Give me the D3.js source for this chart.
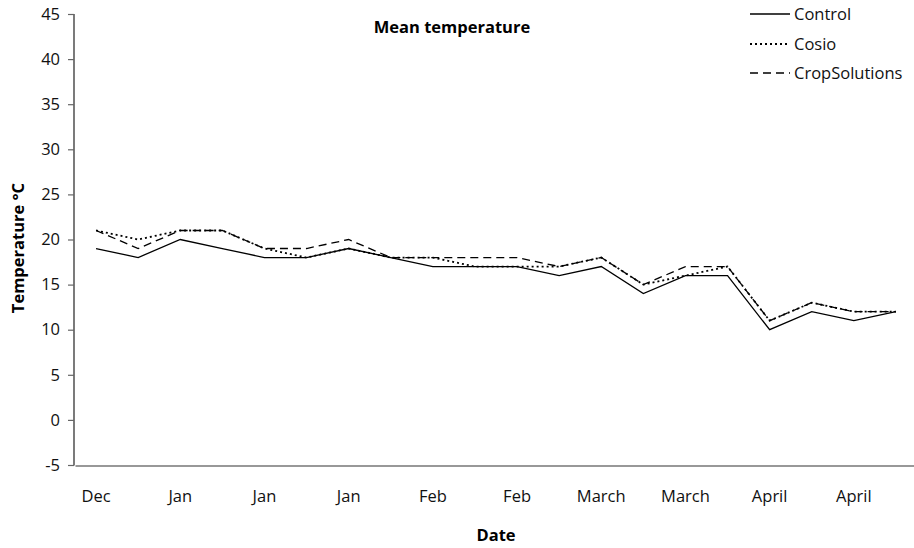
<!DOCTYPE html>
<html><head><meta charset="utf-8">
<script src="https://cdn.jsdelivr.net/npm/d3@7"></script>
<style>body{margin:0;background:#fff}svg{display:block;font-family:"Open Sans",sans-serif}</style>
</head><body><svg id="c" width="914" height="548"></svg>
<script>
const categories = ["Dec","Dec","Jan","Jan","Jan","Jan","Jan","Feb","Feb","Feb","Feb","March","March","March","March","April","April","April","April","April"];
const control = [19,18,20,19,18,18,19,18,17,17,17,16,17,14,16,16,10,12,11,12];
const cosio = [21,20,21,21,19,18,19,18,18,17,17,17,18,15,16,17,11,13,12,12];
const cropSolutions = [21,19,21,21,19,19,20,18,18,18,18,17,18,15,17,17,11,13,12,12];
const yTicks = [-5,0,5,10,15,20,25,30,35,40,45];
const seriesNames = ["Control","Cosio","CropSolutions"];

const svg = d3.select("#c");
const idx = d3.range(categories.length);
const x = d3.scaleBand().domain(idx).range([75, 917]).padding(0);
const y = d3.scaleLinear().domain([-5,45]).range([465,14]);
const cx = i => x(i) + x.bandwidth()/2;

// y axis
const ya = svg.append("g").attr("transform","translate(74,0)")
  .call(d3.axisLeft(y).tickValues(yTicks).tickSize(6).tickPadding(8).tickFormat(d=>String(d)));
ya.select(".domain").attr("stroke","#222").attr("stroke-width",1.2).attr("d","M0,14V465.5");
ya.selectAll(".tick line").attr("stroke","#666").attr("stroke-width",1.2);
ya.selectAll(".tick text").attr("font-size",16.5).attr("fill","#111").attr("font-family","Open Sans");

// x axis
const xa = svg.append("g").attr("transform","translate(0,465.5)")
  .call(d3.axisBottom(x).tickSize(0).tickPadding(25).tickFormat((d,i)=> i%2===0 ? categories[i] : ""));
xa.select(".domain").attr("stroke","#333").attr("stroke-width",1.2);
xa.selectAll(".tick text").attr("font-size",16.5).attr("fill","#111").attr("font-family","Open Sans");
xa.selectAll(".tick").filter((d,i)=>i%2===1).remove();

const line = d3.line().x((d,i)=>cx(i)).y(d=>y(d));
const styles = [
  {data: control, dash: null, w: 1.3},
  {data: cosio, dash: "2,3", w: 1.8},
  {data: cropSolutions, dash: "8,5", w: 1.3}
];
[styles[0], styles[2], styles[1]].forEach(s=>{
  svg.append("path").datum(s.data).attr("d",line).attr("fill","none")
    .attr("stroke","#000").attr("stroke-width",s.w)
    .attr("stroke-dasharray",s.dash);
});

// title
svg.append("text").attr("x",452).attr("y",33).attr("text-anchor","middle")
  .attr("font-size",16.5).attr("font-weight","bold").attr("fill","#000").text("Mean temperature");
// axis titles
svg.append("text").attr("x",496).attr("y",541).attr("text-anchor","middle")
  .attr("font-size",16.5).attr("font-weight","bold").attr("fill","#000").text("Date");
svg.append("text").attr("transform","translate(24,248) rotate(-90)").attr("text-anchor","middle")
  .attr("font-size",16.5).attr("font-weight","bold").attr("fill","#000").text("Temperature °C");

// legend
const lg = svg.append("g");
const ly = [14, 44, 73];
seriesNames.forEach((n,i)=>{
  lg.append("line").attr("x1",750).attr("x2",790).attr("y1",ly[i]).attr("y2",ly[i])
    .attr("stroke","#000").attr("stroke-width",styles[i].w).attr("stroke-dasharray",styles[i].dash);
  lg.append("text").attr("x",794).attr("y",ly[i]+6).attr("font-size",16.5).attr("fill","#111").text(n);
});
</script></body></html>
